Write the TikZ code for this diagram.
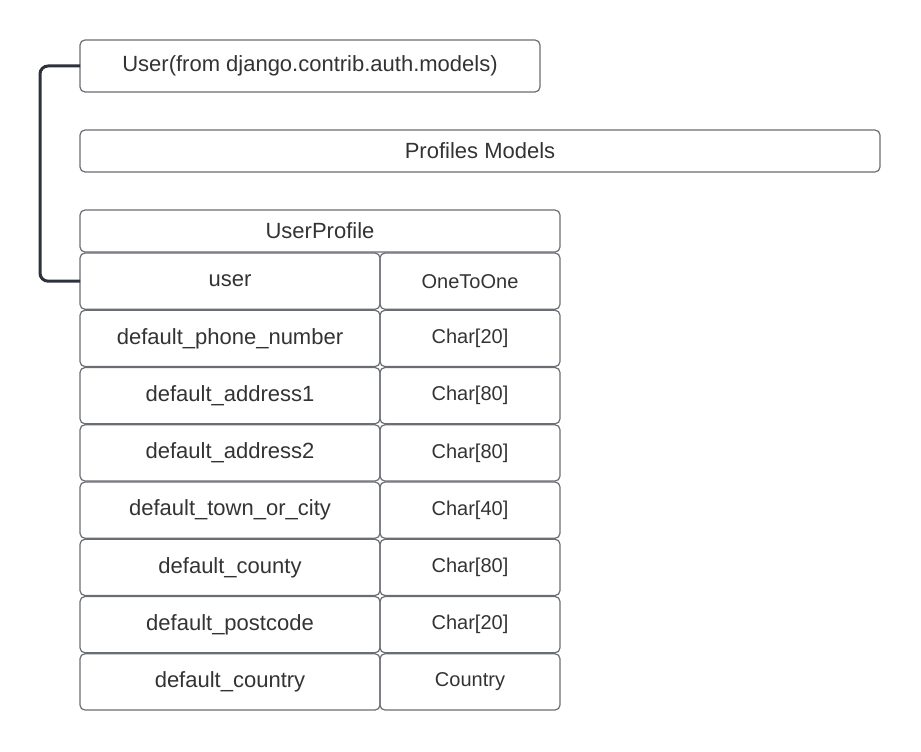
\documentclass[tikz,border=0pt]{standalone}
\usepackage{fontspec}
\setmainfont{Liberation Sans}
\usepackage{xcolor}
\usetikzlibrary{positioning}

\definecolor{boxline}{HTML}{6A6D72}
\definecolor{textgray}{HTML}{333333}
\definecolor{linkline}{HTML}{2C313A}

\tikzset{
    box/.style={draw=boxline, line width=1.2pt, rounded corners=5pt, anchor=north west,
        inner sep=0pt, outer sep=0pt, text=textgray, font=\fontsize{22}{26}\selectfont},
    fieldbox/.style={box, minimum width=300pt, minimum height=56.3pt},
    typebox/.style={box, minimum width=180pt, minimum height=56.3pt, font=\fontsize{20}{24}\selectfont},
    link/.style={draw=linkline, line width=3pt, rounded corners=8pt}
}

\begin{document}
\begin{tikzpicture}[x=1pt, y=-1pt]
    \useasboundingbox (0,0) rectangle (921,752);

    \node (django) at (80,40) [box, minimum width=460pt, minimum height=52pt] {User(from django.contrib.auth.models)};
    \node (models) at (80,130) [box, minimum width=800pt, minimum height=42pt] {Profiles Models};
    \node (profile) at (80,210) [box, minimum width=480pt, minimum height=42pt] {UserProfile};

    % fields of UserProfile
    \foreach \fname/\ftype [count=\i] in {user/OneToOne, default\_phone\_number/Char[20],
        default\_address1/Char[80], default\_address2/Char[80], default\_town\_or\_city/Char[40],
        default\_county/Char[80], default\_postcode/Char[20], default\_country/Country} {
        \node (f\i) at (80,{253+(\i-1)*57.25}) [fieldbox] {\fname};
        \node (t\i) at (380,{253+(\i-1)*57.25}) [typebox] {\ftype};
    }

    \draw[link] (django.west) -- ++(-40,0) |- (f1.west);
\end{tikzpicture}
\end{document}
